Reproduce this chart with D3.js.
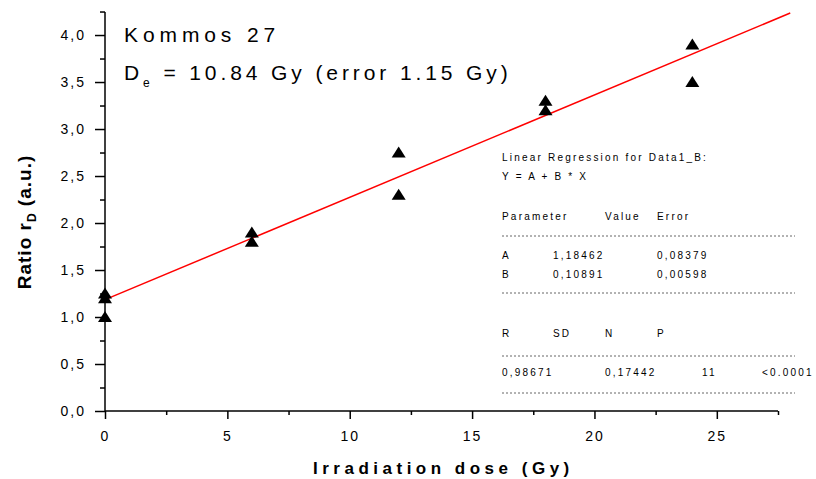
<!DOCTYPE html>
<html>
<head>
<meta charset="utf-8">
<script src="https://cdn.jsdelivr.net/npm/d3@7"></script>
<style>
  body { margin: 0; background: #fff; }
  svg { font-family: Arial, "Liberation Sans", sans-serif; }
  .axis path, .axis line { stroke: #000; stroke-width: 1.5; }
  .axis text { font-size: 14px; letter-spacing: 2px; fill: #000; }
  .fit { stroke: #f00; stroke-width: 1.5; fill: none; }
  .stat { font-size: 10px; letter-spacing: 2.2px; fill: #000; }
  .rule { stroke: #666; stroke-width: 1; stroke-dasharray: 2,2; }
</style>
</head>
<body>
<svg id="chart" width="816" height="479"></svg>
<script>

// Measured doses and ratios
var doses  = [0, 0, 0, 6, 6, 12, 12, 18, 18, 24, 24];
var ratios = [1.0, 1.2, 1.25, 1.8, 1.9, 2.3, 2.75, 3.2, 3.3, 3.5, 3.9];

// Fit parameters
var fitA = 1.18462,
    fitB = 0.10891;
var fitRange = [0, 28];

var xTicks = [0, 5, 10, 15, 20, 25];
var yTicks = [0, 0.5, 1.0, 1.5, 2.0, 2.5, 3.0, 3.5, 4.0];

var statRows = [
  ["Linear Regression for Data1_B:"],
  ["Y = A + B * X"],
  ["Parameter", "", "Value", "Error"],
  "rule",
  ["A", "1,18462", "", "0,08379"],
  ["B", "0,10891", "", "0,00598"],
  "rule",
  ["R", "SD", "N", "P"],
  "rule",
  ["0,98671", "", "0,17442", "", "11", "<0.0001"],
  "rule"
];

var svg = d3.select("#chart");

var margin = {left: 105, top: 12, right: 38, bottom: 68};

var x = d3.scaleLinear()
  .domain([0, 27.5])
  .range([margin.left, 816 - margin.right]);

var y = d3.scaleLinear()
  .domain([0, 4.245])
  .range([479 - margin.bottom, margin.top]);

var comma = function(d) { return d3.format(".1f")(d).replace(".", ","); };

// Axes: major ticks with labels, minor ticks in between

svg.append("g")
  .attr("class", "axis")
  .attr("transform", "translate(0," + y(0) + ")")
  .call(d3.axisBottom(x).tickValues(d3.range(0, 27.6, 2.5)).tickSize(8).tickPadding(5)
    .tickFormat(function(d) { return xTicks.indexOf(d) >= 0 ? d : ""; }))
  .call(function(g) {
    g.selectAll(".tick line").attr("y2", function(d) { return xTicks.indexOf(d) >= 0 ? 8 : 4; });
    g.select(".domain").attr("d", "M" + x(0) + ",0H" + x(27.5));
    g.selectAll(".tick text").attr("dy", "1.2em");
  });

svg.append("g")
  .attr("class", "axis")
  .attr("transform", "translate(" + x(0) + ",0)")
  .call(d3.axisLeft(y).tickValues(d3.range(0, 4.26, 0.25)).tickSize(10).tickPadding(9)
    .tickFormat(function(d) { return yTicks.indexOf(d) >= 0 ? comma(d) : ""; }))
  .call(function(g) {
    g.selectAll(".tick line").attr("x2", function(d) { return yTicks.indexOf(d) >= 0 ? -10 : -5; });
    g.select(".domain").attr("d", "M0," + y(0) + "V" + y(4.245));
  });

// Fit line

svg.append("path")
  .attr("class", "fit")
  .attr("d", d3.line()(fitRange.map(function(d) { return [x(d), y(fitA + fitB * d)]; })));

// Triangles

svg.selectAll(".pt")
  .data(doses)
  .enter().append("path")
  .attr("class", "pt")
  .attr("transform", function(d, i) { return "translate(" + x(d) + "," + y(ratios[i]) + ")"; })
  .attr("d", "M0,-6L7,5L-7,5Z")
  .attr("fill", "#000");

// Title lines

svg.append("text")
  .attr("x", 124).attr("y", 42)
  .attr("font-size", 21).attr("letter-spacing", 4.9)
  .text("Kommos 27");

var de = svg.append("text")
  .attr("x", 124).attr("y", 80)
  .attr("font-size", 21).attr("letter-spacing", 3.9);
de.append("tspan").text("D");
de.append("tspan").attr("font-size", 12).attr("dy", 7).text("e");
de.append("tspan").attr("dy", -7).text(" = 10.84 Gy (error 1.15 Gy)");

// Axis titles

svg.append("text")
  .attr("x", 313).attr("y", 474)
  .attr("font-size", 17).attr("font-weight", "bold").attr("letter-spacing", 4.5)
  .text("Irradiation dose (Gy)");

var yl = svg.append("text")
  .attr("transform", "translate(31," + 222 + ") rotate(-90)")
  .attr("text-anchor", "middle")
  .attr("font-size", 19).attr("font-weight", "bold").attr("letter-spacing", 1);
yl.append("tspan").text("Ratio r");
yl.append("tspan").attr("font-size", 12).attr("dy", 5).text("D");
yl.append("tspan").attr("dy", -5).text(" (a.u.)");

// Regression summary

var colX = [502, 553, 605, 657, 702, 762];
var rowY = [161, 180, 220, 236, 259, 278, 293, 337, 356, 376, 393];

statRows.forEach(function(row, i) {
  if (row === "rule") {
    svg.append("line").attr("class", "rule")
      .attr("x1", 502).attr("x2", 795)
      .attr("y1", rowY[i]).attr("y2", rowY[i]);
    return;
  }
  row.forEach(function(cell, j) {
    if (!cell) return;
    svg.append("text").attr("class", "stat")
      .attr("x", colX[j]).attr("y", rowY[i])
      .text(cell);
  });
});

</script>
</body>
</html>
